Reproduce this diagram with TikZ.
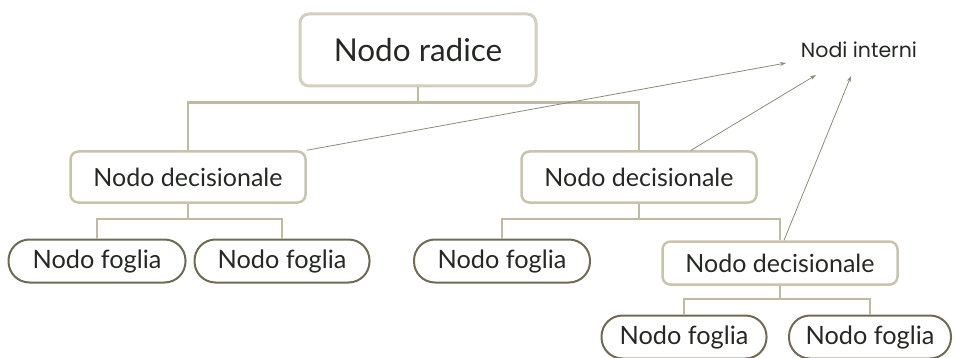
\documentclass[tikz,border=0pt]{standalone}
\usepackage{fontspec}
\setmainfont{Lato}
\newfontfamily\labelfont{Poppins}
\usetikzlibrary{arrows.meta,calc}

\definecolor{rootline}{HTML}{D3CFBC}
\definecolor{decline}{HTML}{C8C3AB}
\definecolor{leafline}{HTML}{6F6B52}
\definecolor{treeline}{HTML}{C0BAA2}
\definecolor{arrowcol}{HTML}{8E8B75}
\definecolor{textcol}{HTML}{252825}

\tikzset{
  rootbox/.style={draw=rootline,line width=3pt,rounded corners=9pt,
    minimum width=236pt,minimum height=72pt,text=textcol,
    font=\fontsize{31.5}{38}\selectfont},
  decbox/.style={draw=decline,line width=2.5pt,rounded corners=8pt,
    minimum width=235pt,minimum height=51pt,text=textcol,
    font=\fontsize{25}{30}\selectfont},
  leafbox/.style={draw=leafline,line width=2pt,rounded corners=21pt,
    minimum height=43pt,text=textcol,font=\fontsize{25.3}{30}\selectfont},
  tree/.style={draw=treeline,line width=2.5pt},
  pointer/.style={draw=arrowcol,line width=0.8pt,-{Stealth[length=6pt,width=4pt]}}
}

\begin{document}
\begin{tikzpicture}[x=1pt,y=-1pt]
\useasboundingbox (0,0) rectangle (955,358);

% nodes
\node[rootbox] (root) at (418,50) {Nodo radice};
\node[decbox] (dec1) at (188,177) {Nodo decisionale};
\node[decbox] (dec2) at (639,177) {Nodo decisionale};
\node[leafbox,minimum width=177pt] (leaf1) at (97,261) {Nodo foglia};
\node[leafbox,minimum width=175pt] (leaf2) at (282,261) {Nodo foglia};
\node[leafbox,minimum width=176pt] (leaf3) at (502,261) {Nodo foglia};
\node[decbox,minimum height=43pt] (dec3) at (780,263) {Nodo decisionale};
\node[leafbox,minimum width=165pt] (leaf4) at (684,337) {Nodo foglia};
\node[leafbox,minimum width=162pt] (leaf5) at (870,337) {Nodo foglia};

% label
\node[text=textcol,font=\labelfont\fontsize{20.5}{24}\selectfont] (interni) at (859,50) {Nodi interni};
\coordinate (p1) at (786,63);
\coordinate (p2) at (816,75);
\coordinate (p3) at (851,76);

% tree lines
\draw[tree] (root.south) -- ++(0,15) -| (dec1.north);
\draw[tree] (root.south) -- ++(0,15) -| (dec2.north);
\draw[tree] (dec1.south) -- ++(0,15) -| (leaf1.north);
\draw[tree] (dec1.south) -- ++(0,15) -| (leaf2.north);
\draw[tree] (dec2.south) -- ++(0,15) -| (leaf3.north);
\draw[tree] (dec2.south) -- ++(0,15) -| (dec3.north);
\draw[tree] (dec3.south) -- ++(0,13) -| (leaf4.north);
\draw[tree] (dec3.south) -- ++(0,13) -| (leaf5.north);

% arrows to the label
\draw[pointer] (dec1.north east) -- (p1);
\draw[pointer] ($(dec2.north)+(52,0)$) -- (p2);
\draw[pointer] ($(dec3.north)+(4,0)$) -- (p3);
\end{tikzpicture}
\end{document}
